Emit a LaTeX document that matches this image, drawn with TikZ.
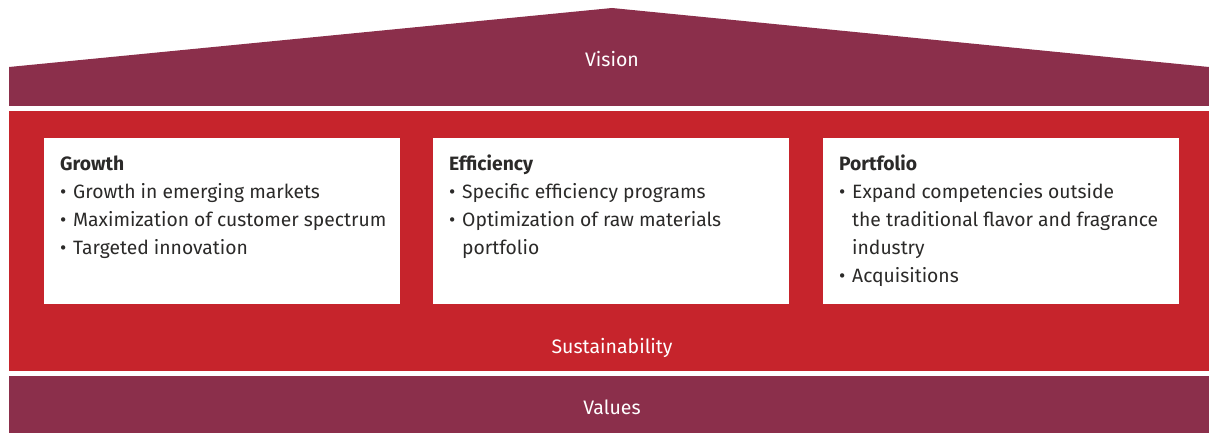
\documentclass[tikz,border=0pt]{standalone}
\usepackage{fontspec}
\setmainfont{Fira Sans}
\definecolor{maroon}{HTML}{8B2F4B}
\definecolor{brandred}{HTML}{C6242C}
\definecolor{txt}{HTML}{2B2A29}
\newcommand{\bul}{\makebox[13pt][l]{\textbullet}}
\newcommand{\ind}{\hspace*{13pt}}
\begin{document}
\begin{tikzpicture}[x=1pt,y=-1pt,
  band/.style={fill=maroon,draw=none},
  bandlabel/.style={text=white,font=\fontsize{19.5}{22}\selectfont,inner sep=0pt},
  card/.style={fill=white,draw=none,minimum width=356pt,minimum height=166pt,inner sep=0pt,anchor=north west},
  cardtext/.style={text=txt,font=\fontsize{19.3}{28}\selectfont,anchor=north west,inner sep=0pt,align=left}
]
\useasboundingbox (0,0) rectangle (1209,433);
% roof
\fill[maroon] (9,67) -- (612,8) -- (1209,67) -- (1209,106) -- (9,106) -- cycle;
\node[bandlabel] (vision) at (612,59) {Vision};
% red body
\fill[brandred] (9,111) rectangle (1209,371);
\node[bandlabel] (sust) at (612,348) {Sustainability};
% values
\fill[maroon] (9,376) rectangle (1209,433);
\node[bandlabel] (values) at (612,407) {Values};
% cards
\node[card] (c1) at (44,138) {};
\node[card] (c2) at (433,138) {};
\node[card] (c3) at (823,138) {};
\node[cardtext] (t1) at ([xshift=16pt,yshift=-12.4pt]c1.north west) {\strut\textbf{Growth}\\
\bul Growth in emerging markets\\
\bul Maximization of customer spectrum\\
\bul Targeted innovation};
\node[cardtext] (t2) at ([xshift=16pt,yshift=-12.4pt]c2.north west) {\strut\textbf{Efficiency}\\
\bul Specific efficiency programs\\
\bul Optimization of raw materials\\
\ind portfolio};
\node[cardtext] (t3) at ([xshift=16pt,yshift=-12.4pt]c3.north west) {\strut\textbf{Portfolio}\\
\bul Expand competencies outside\\
\ind the traditional flavor and fragrance\\
\ind industry\\
\bul Acquisitions};
\end{tikzpicture}
\end{document}
